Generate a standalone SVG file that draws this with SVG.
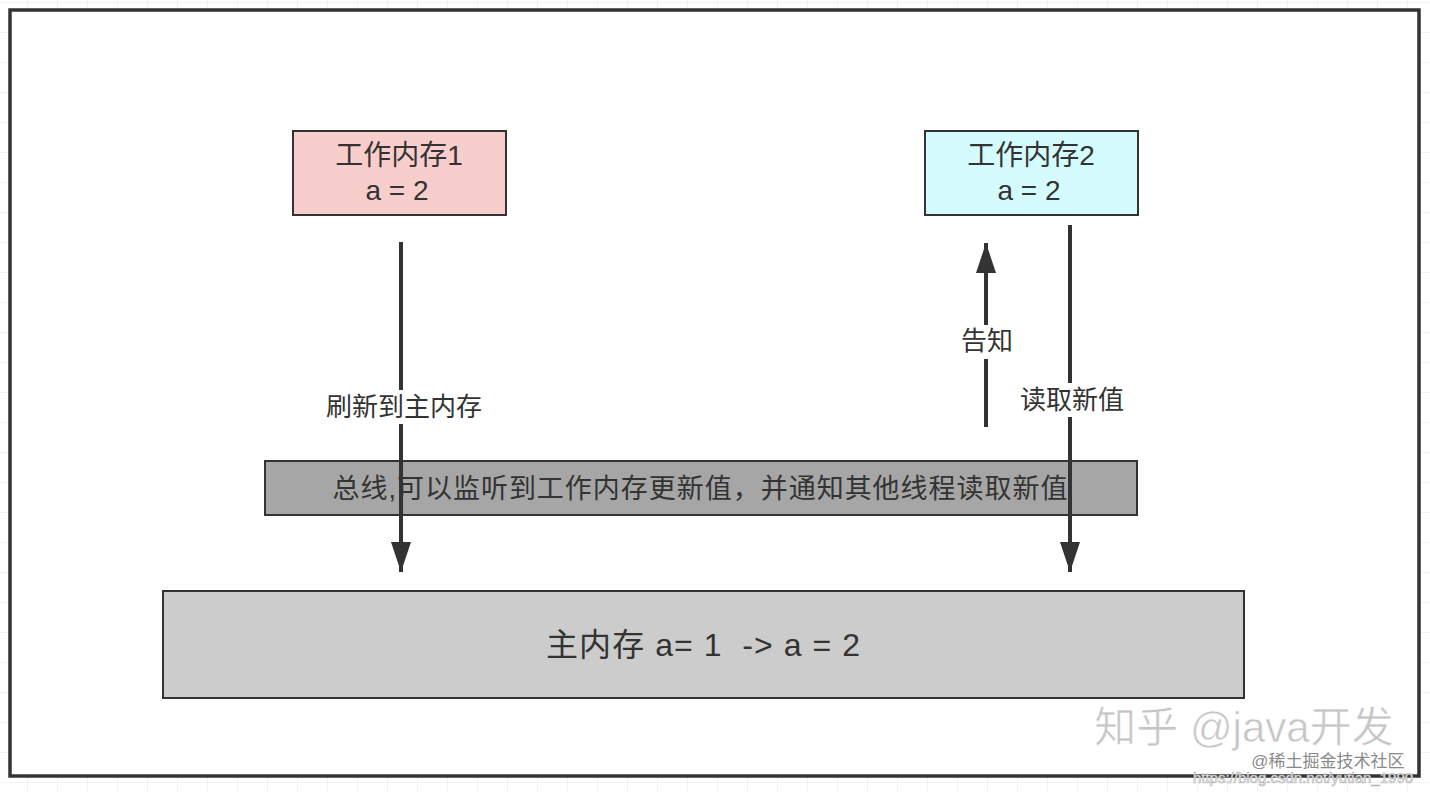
<svg xmlns="http://www.w3.org/2000/svg" width="1430" height="792" viewBox="0 0 1430 792">
<defs>
<pattern id="grid" width="30" height="30" patternUnits="userSpaceOnUse" x="-2" y="3">
<path d="M30 0 V30 M0 30 H30" fill="none" stroke="#e6e6e6" stroke-width="1"/>
</pattern>
<marker id="ah" viewBox="0 0 30 20" refX="30" refY="10" markerWidth="30" markerHeight="20" markerUnits="userSpaceOnUse" orient="auto">
<path d="M0 0 L30 10 L0 20 Z" fill="#333"/>
</marker>
<style>
text{font-family:"Liberation Sans","Noto Sans CJK SC",sans-serif;fill:#333;text-anchor:middle;}
.box{stroke:#333;stroke-width:2;}
.conn{stroke:#333;stroke-width:4;fill:none;}
.lbl{font-size:26px;}
.bg{fill:#fff;}
.nt{font-size:28px;}
</style>
</defs>
<rect width="1430" height="792" fill="#fff"/>
<rect width="1430" height="792" fill="url(#grid)"/>
<rect x="10" y="10" width="1409" height="766" fill="#fff" stroke="#333" stroke-width="3.5"/>

<g id="bus">
<rect class="box" x="265" y="461" width="872" height="54" fill="#a6a6a6"/>
<text x="700" y="498" font-size="27" textLength="735" lengthAdjust="spacing">总线,可以监听到工作内存更新值，并通知其他线程读取新值</text>
</g>
<g id="main-memory">
<rect class="box" x="163" y="591" width="1081" height="107" fill="#cccccc"/>
<text x="703" y="656" font-size="32" xml:space="preserve" textLength="314" lengthAdjust="spacing">主内存 a= 1  -&gt; a = 2</text>
</g>
<g id="work-memory-1">
<rect class="box" x="293" y="131" width="213" height="84" fill="#f8cecc"/>
<text class="nt" x="399" y="165">工作内存1</text>
<text class="nt" x="397" y="200">a = 2</text>
</g>
<g id="work-memory-2">
<rect class="box" x="925" y="131" width="213" height="84" fill="#d4fbfd"/>
<text class="nt" x="1031" y="165">工作内存2</text>
<text class="nt" x="1029" y="200">a = 2</text>
</g>

<g id="connectors">
<line class="conn" x1="401" y1="242" x2="401" y2="572" marker-end="url(#ah)"/>
<line class="conn" x1="1070" y1="225" x2="1070" y2="572" marker-end="url(#ah)"/>
<line class="conn" x1="986" y1="427" x2="986" y2="243" marker-end="url(#ah)"/>
<rect class="bg" x="324" y="390" width="160" height="34"/>
<text class="lbl" x="404" y="416">刷新到主内存</text>
<rect class="bg" x="1018" y="383" width="108" height="34"/>
<text class="lbl" x="1072" y="409">读取新值</text>
<rect class="bg" x="959" y="325" width="56" height="34"/>
<text class="lbl" x="987" y="350">告知</text>
</g>

<g id="watermarks">
<text x="1244" y="742" font-size="42" style="fill:#c6c6c6;stroke:#fff;stroke-width:0.6">知乎 @java开发</text>
<text x="1328" y="767" font-size="17" style="fill:#8a8a8a">@稀土掘金技术社区</text>
<text x="1303" y="783" font-size="15" style="fill:#fff;stroke:#b5b5b5;stroke-width:0.7">https://blog.csdn.net/yutian_1990</text>
</g>
</svg>
